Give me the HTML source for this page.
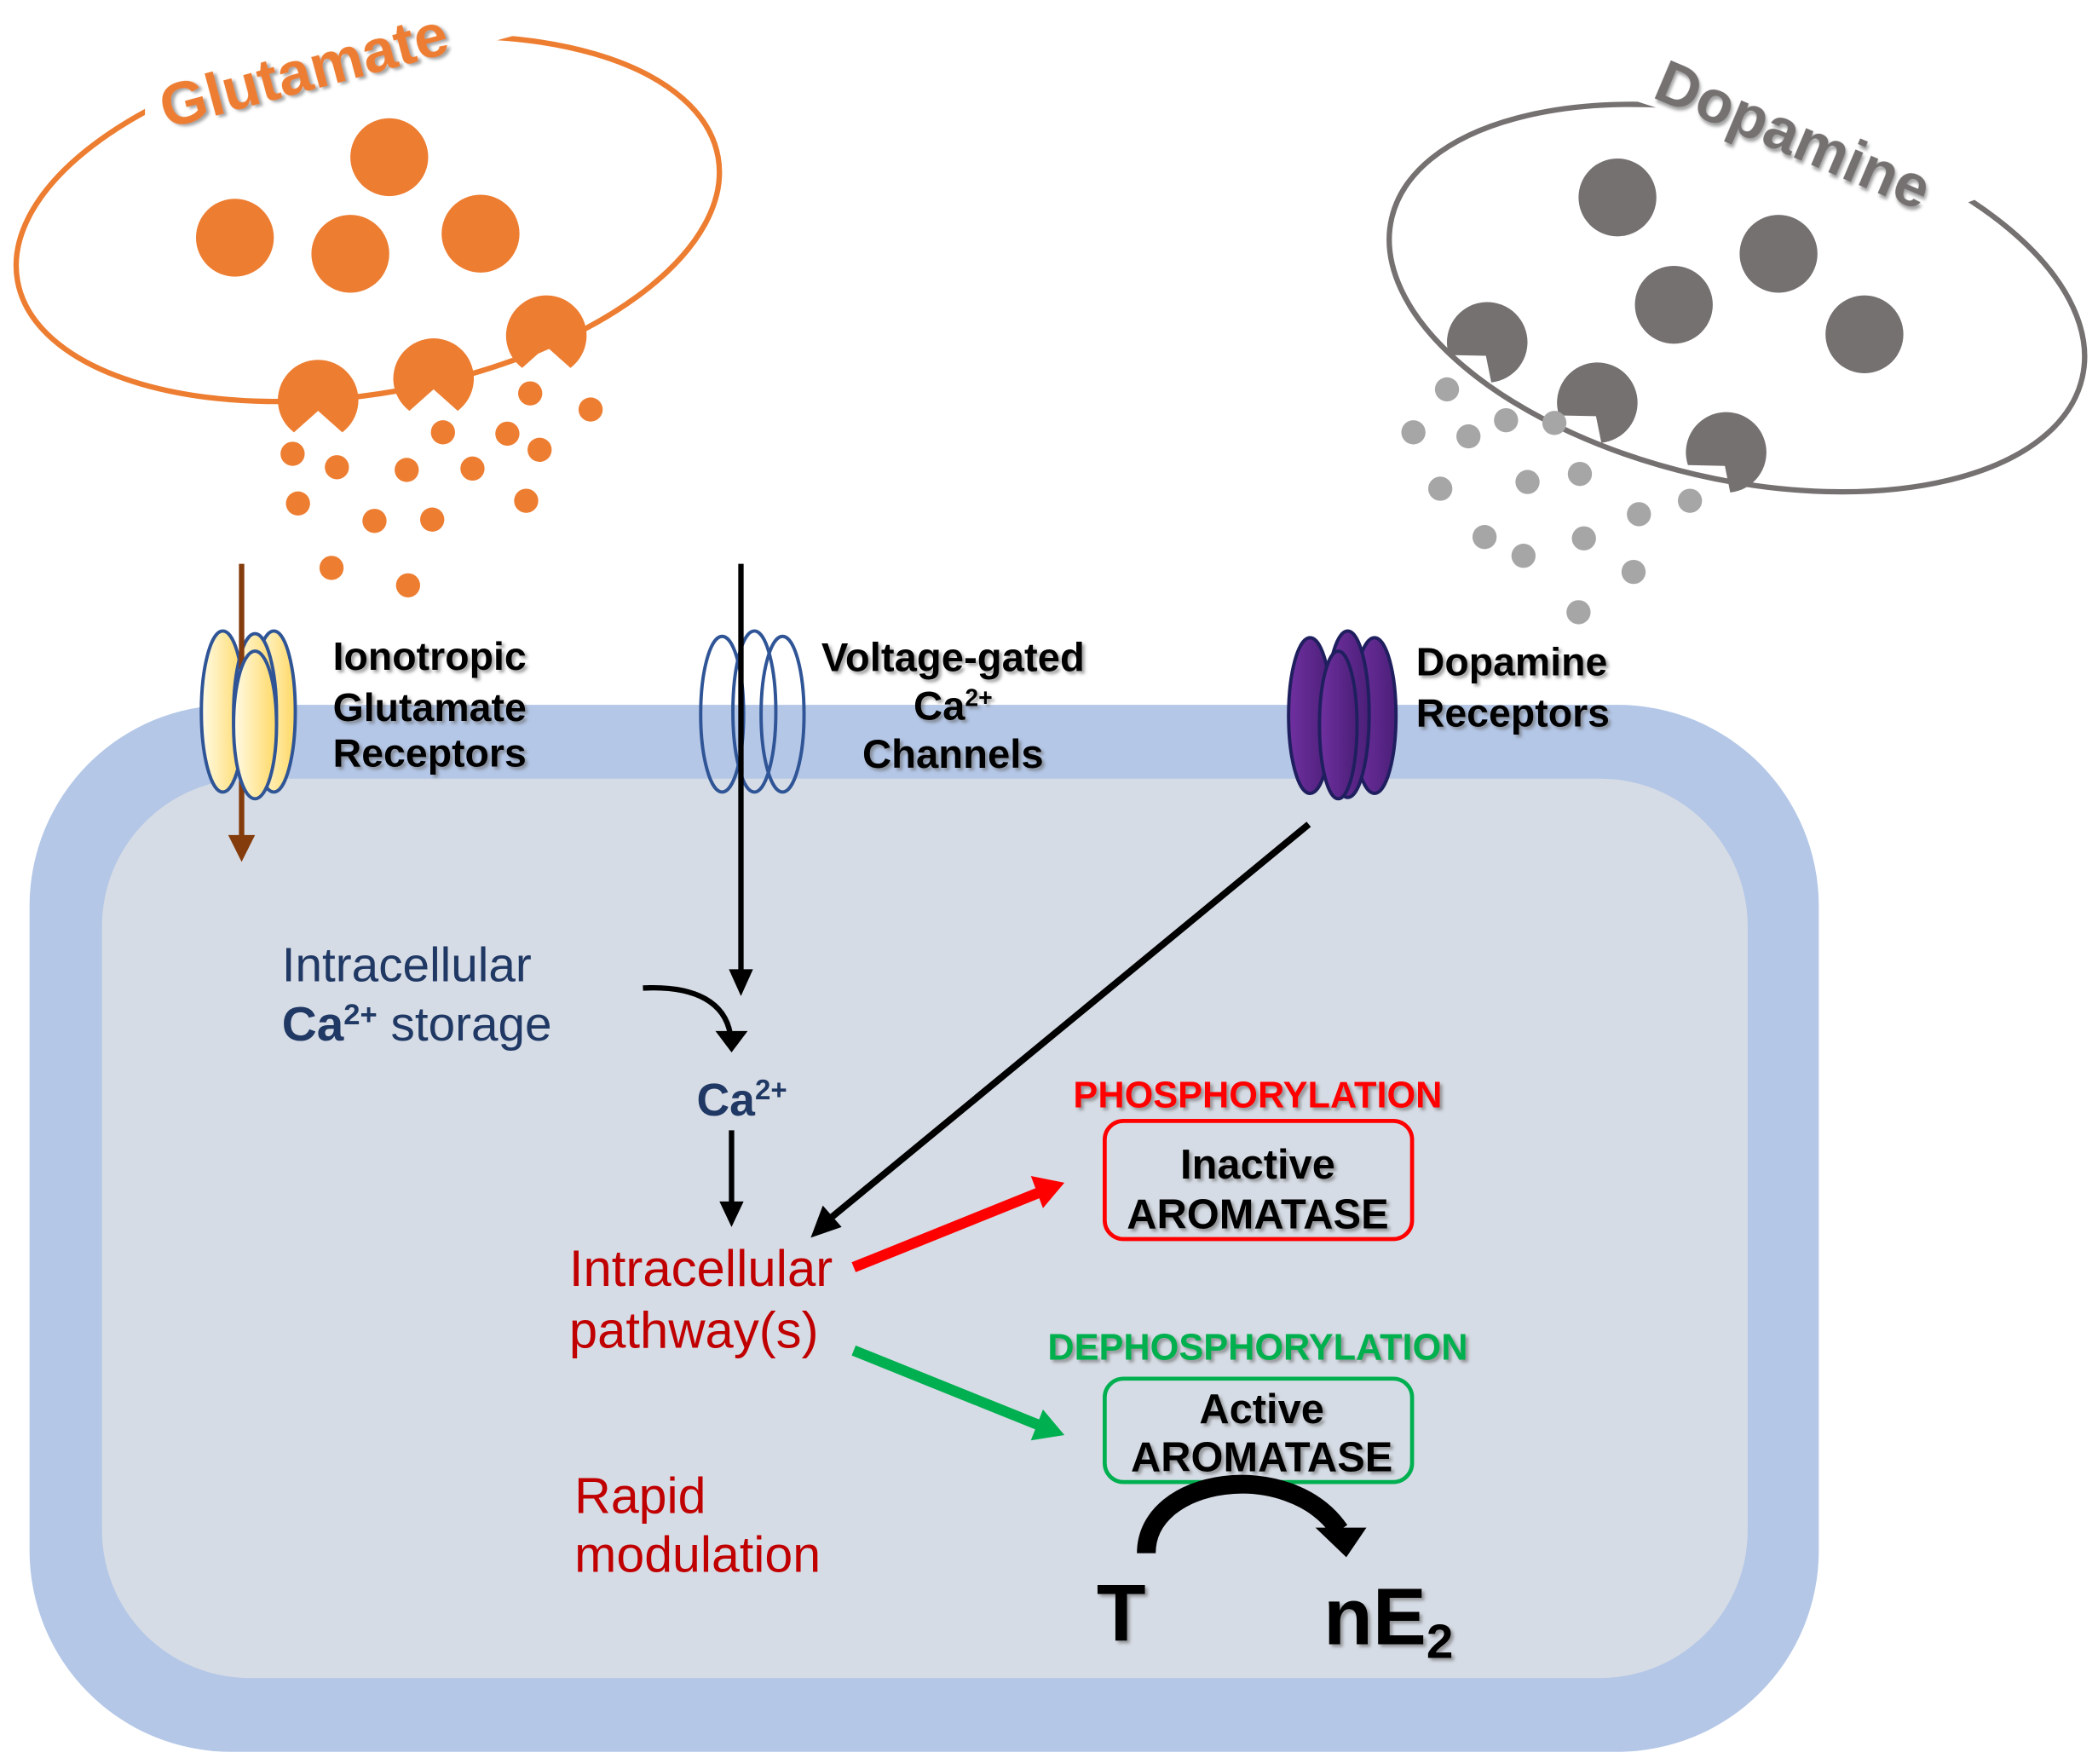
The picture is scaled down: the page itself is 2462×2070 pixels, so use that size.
<!DOCTYPE html>
<html><head><meta charset="utf-8"><style>html,body{margin:0;padding:0;background:#fff}svg{display:block}</style></head>
<body>
<svg width="2462" height="2070" viewBox="0 0 1563 1314" xmlns="http://www.w3.org/2000/svg" font-family="Liberation Sans, Arial, sans-serif">
<defs>
<linearGradient id="yg" x1="0" x2="1"><stop offset="0" stop-color="#fffbe6"/><stop offset="1" stop-color="#ffd966"/></linearGradient>
<linearGradient id="pg" x1="0" x2="1"><stop offset="0" stop-color="#7030a0"/><stop offset="1" stop-color="#4b1f78"/></linearGradient>
<filter id="sh"><feDropShadow dx="2" dy="2" stdDeviation="1.2" flood-color="#666" flood-opacity="0.6"/></filter>
</defs>
<rect x="22" y="525" width="1333" height="780" rx="150" fill="#b4c7e7"/>
<rect x="76" y="580" width="1226" height="670" rx="110" fill="#d6dce5"/>

<!-- Glutamate -->
<ellipse cx="274" cy="163" rx="265" ry="130" transform="rotate(-10 274 163)" fill="none" stroke="#ed7d31" stroke-width="4"/>
<polygon points="108,102 108,-10 392,-10 392,24" fill="#fff"/>
<text x="124" y="96" transform="rotate(-15 124 96)" font-size="45" font-weight="bold" fill="#ed7d31" filter="url(#sh)">Glutamate</text>
<g fill="#ed7d31">
<circle cx="290" cy="117" r="29"/><circle cx="175" cy="177" r="29"/><circle cx="261" cy="189" r="29"/><circle cx="358" cy="174" r="29"/>
<path d="M255,322 A30,30 0 1 0 219,322 L237,306 Z"/>
<path d="M341,306 A30,30 0 1 0 305,306 L323,290 Z"/>
<path d="M425,274 A30,30 0 1 0 389,274 L407,258 Z"/>
<circle cx="218" cy="338" r="9"/><circle cx="251" cy="348" r="9"/><circle cx="303" cy="350" r="9"/><circle cx="330" cy="322" r="9"/><circle cx="352" cy="349" r="9"/><circle cx="378" cy="323" r="9"/><circle cx="402" cy="335" r="9"/><circle cx="395" cy="293" r="9"/><circle cx="440" cy="305" r="9"/><circle cx="222" cy="375" r="9"/><circle cx="279" cy="388" r="9"/><circle cx="322" cy="387" r="9"/><circle cx="392" cy="373" r="9"/><circle cx="247" cy="423" r="9"/><circle cx="304" cy="436" r="9"/>
</g>

<!-- Dopamine -->
<ellipse cx="1294" cy="222" rx="264" ry="135" transform="rotate(13 1294 222)" fill="none" stroke="#767171" stroke-width="4"/>
<polygon points="1190,66 1190,-10 1600,-10 1600,100 1460,153" fill="#fff"/>
<text x="1230" y="72" transform="rotate(23 1230 72)" font-size="45" font-weight="bold" fill="#767171" filter="url(#sh)">Dopamine</text>
<g fill="#767171">
<circle cx="1205" cy="147" r="29"/><circle cx="1325" cy="189" r="29"/><circle cx="1247" cy="227" r="29"/><circle cx="1389" cy="249" r="29"/>
<path d="M1079.5,264.4 A30,30 0 1 1 1111,284.8 L1107,265 Z"/>
<path d="M1161.5,309.4 A30,30 0 1 1 1193,329.8 L1189,310 Z"/>
<path d="M1257.5,346.4 A30,30 0 1 1 1289,366.8 L1285,347 Z"/>
</g>
<g fill="#a6a6a6">
<circle cx="1078" cy="290" r="9"/><circle cx="1053" cy="322" r="9"/><circle cx="1094" cy="325" r="9"/><circle cx="1122" cy="313" r="9"/><circle cx="1158" cy="315" r="9"/><circle cx="1138" cy="359" r="9"/><circle cx="1177" cy="353" r="9"/><circle cx="1073" cy="364" r="9"/><circle cx="1221" cy="383" r="9"/><circle cx="1259" cy="373" r="9"/><circle cx="1106" cy="400" r="9"/><circle cx="1135" cy="414" r="9"/><circle cx="1180" cy="401" r="9"/><circle cx="1217" cy="426" r="9"/><circle cx="1176" cy="456" r="9"/>
</g>

<!-- Ionotropic -->
<g stroke="#2f5597" stroke-width="2.5" fill="url(#yg)">
<ellipse cx="204" cy="530" rx="16" ry="60"/><ellipse cx="166" cy="530" rx="16" ry="60"/><ellipse cx="190" cy="532" rx="16" ry="60"/>
</g>
<line x1="180" y1="420" x2="180" y2="625" stroke="#843c0c" stroke-width="4"/>
<path d="M170,622 L190,622 L180,642z" fill="#843c0c"/>
<ellipse cx="190" cy="540" rx="16" ry="55" fill="url(#yg)" stroke="#2f5597" stroke-width="2.5"/>
<text font-size="29.5" font-weight="bold" fill="#000" filter="url(#sh)"><tspan x="248" y="499">Ionotropic</tspan><tspan x="248" y="537">Glutamate</tspan><tspan x="248" y="571">Receptors</tspan></text>

<!-- Voltage gated -->
<g stroke="#2f5597" stroke-width="2.5" fill="none">
<ellipse cx="538" cy="532" rx="16" ry="58"/><ellipse cx="583" cy="532" rx="16" ry="58"/><ellipse cx="562" cy="530" rx="16" ry="60"/>
</g>
<line x1="552" y1="420" x2="552" y2="725" stroke="#000" stroke-width="4"/>
<path d="M543,722 L561,722 L552,742z" fill="#000"/>
<text font-size="30" font-weight="bold" fill="#000" text-anchor="middle" filter="url(#sh)"><tspan x="710" y="500">Voltage-gated</tspan><tspan x="710" y="536">Ca<tspan font-size="18" dy="-10">2+</tspan></tspan><tspan x="710" y="572">Channels</tspan></text>

<!-- Dopamine receptor -->
<g stroke="#1f1f5f" stroke-width="2.5" fill="url(#pg)">
<ellipse cx="1024" cy="533" rx="16" ry="58"/><ellipse cx="976" cy="533" rx="16" ry="58"/><ellipse cx="1004" cy="532" rx="16" ry="62"/><ellipse cx="997" cy="540" rx="14" ry="55"/>
</g>
<text font-size="29.5" font-weight="bold" fill="#000" filter="url(#sh)"><tspan x="1055" y="503">Dopamine</tspan><tspan x="1055" y="541">Receptors</tspan></text>

<!-- interior -->
<text font-size="36" fill="#1f3864"><tspan x="210" y="731">Intracellular</tspan><tspan x="210" y="775"><tspan font-weight="bold">Ca<tspan font-size="22" dy="-12">2+</tspan></tspan><tspan dy="12"> storage</tspan></tspan></text>
<path d="M479,736 C520,734 540,748 544,770" fill="none" stroke="#000" stroke-width="4"/>
<path d="M533,768 L557,768 L545,784z" fill="#000"/>
<text x="519" y="831" font-size="34" font-weight="bold" fill="#1f3864">Ca<tspan font-size="21" dy="-12">2+</tspan></text>
<line x1="545" y1="842" x2="545" y2="898" stroke="#000" stroke-width="4"/>
<path d="M536,895 L554,895 L545,914z" fill="#000"/>
<line x1="975" y1="614" x2="618" y2="908" stroke="#000" stroke-width="5"/>
<path d="M604,922 L613,898 L627,914z" fill="#000"/>
<text font-size="38" fill="#c00000"><tspan x="424" y="958">Intracellular</tspan><tspan x="424" y="1004">pathway(s)</tspan></text>
<text font-size="37.5" fill="#c00000"><tspan x="428" y="1127">Rapid</tspan><tspan x="428" y="1171">modulation</tspan></text>

<line x1="636" y1="944" x2="775" y2="888" stroke="#ff0000" stroke-width="8"/>
<path d="M793,881 L768,876 L777,900z" fill="#ff0000"/>
<line x1="636" y1="1006" x2="775" y2="1062" stroke="#00b050" stroke-width="8"/>
<path d="M793,1069 L777,1050 L768,1073z" fill="#00b050"/>

<text x="937" y="825" font-size="27.5" font-weight="bold" fill="#ff0000" text-anchor="middle" filter="url(#sh)">PHOSPHORYLATION</text>
<rect x="823" y="835" width="229" height="88" rx="14" fill="none" stroke="#ff0000" stroke-width="3"/>
<text font-size="31" font-weight="bold" fill="#000" text-anchor="middle" filter="url(#sh)"><tspan x="937" y="878">Inactive</tspan><tspan x="937" y="915">AROMATASE</tspan></text>

<text x="937" y="1013" font-size="27.5" font-weight="bold" fill="#00b050" text-anchor="middle" filter="url(#sh)">DEPHOSPHORYLATION</text>
<rect x="823" y="1027" width="229" height="77" rx="14" fill="none" stroke="#00b050" stroke-width="3"/>
<text font-size="31" font-weight="bold" fill="#000" text-anchor="middle" filter="url(#sh)"><tspan x="940" y="1060">Active</tspan><tspan x="940" y="1096">AROMATASE</tspan></text>

<path d="M854,1157 C854,1100 960,1085 998,1140" fill="none" stroke="#000" stroke-width="14"/>
<path d="M980,1138 L1018,1138 L1003,1160z" fill="#000"/>
<text x="817" y="1222" font-size="60" font-weight="bold" fill="#000" filter="url(#sh)">T</text>
<text x="986" y="1225" font-size="60" font-weight="bold" fill="#000" filter="url(#sh)">nE<tspan font-size="36" dy="10">2</tspan></text>
</svg>
</body></html>
